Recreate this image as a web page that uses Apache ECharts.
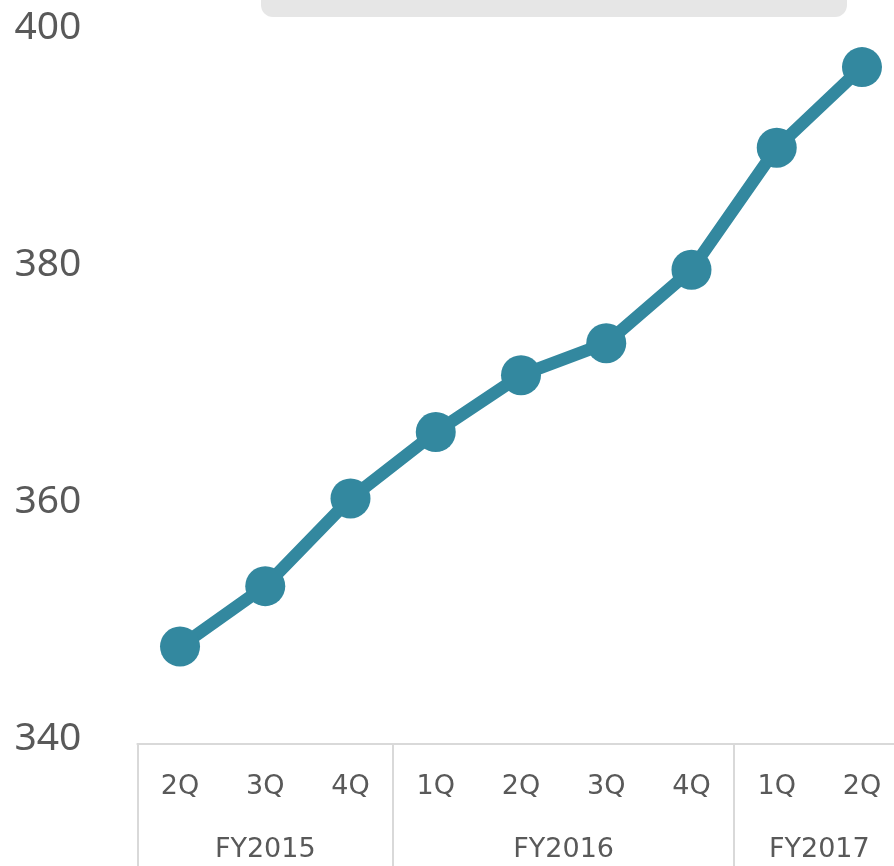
<!DOCTYPE html>
<html><head><meta charset="utf-8">
<script src="https://cdn.jsdelivr.net/npm/echarts@6/dist/echarts.min.js"></script>
<style>html,body{margin:0;padding:0;background:#fff;overflow:hidden}#c{width:894px;height:866px}</style>
</head><body><div id="c"></div>
<script>
const quarters = ['2Q','3Q','4Q','1Q','2Q','3Q','4Q','1Q','2Q'];
const fiscalYears = ['FY2015','FY2016','FY2017'];
const quartersPerYear = [3, 4, 2];
const values = [347.8, 352.9, 360.3, 365.9, 370.7, 373.4, 379.6, 389.9, 396.7];
const yMin = 340, yMax = 400, yStep = 20;

// group boundaries and centers in category-index units
const bounds = [-0.5];
quartersPerYear.forEach(n => bounds.push(bounds[bounds.length - 1] + n));
const centers = fiscalYears.map((_, i) => (bounds[i] + bounds[i + 1]) / 2);
const centerName = {};
centers.forEach((c, i) => { centerName[c] = fiscalYears[i]; });

const FONT = 'DejaVu Sans';
const TXT = '#595959';
const GRID_LINE = '#d9d9d9';
const TEAL = '#33889f';

const chart = echarts.init(document.getElementById('c'), null, {renderer: 'canvas'});
chart.setOption({
  animation: false,
  backgroundColor: '#fff',
  graphic: [{
    type: 'rect', left: 261, top: -30,
    shape: {width: 586, height: 47, r: 12},
    style: {fill: '#e6e6e6'}, silent: true
  }],
  grid: {left: 137.4, top: 28, width: 767.2, bottom: 127, containLabel: false, outerBoundsMode: 'none'},
  xAxis: [{
    type: 'category', data: quarters, position: 'bottom', offset: 5,
    boundaryGap: true,
    axisLine: {onZero: false, lineStyle: {color: GRID_LINE, width: 2}},
    axisTick: {show: false},
    splitLine: {show: false},
    axisLabel: {interval: 0, color: TXT, fontFamily: FONT, fontSize: 27, margin: 29}
  }, {
    type: 'value', min: bounds[0], max: bounds[bounds.length - 1], position: 'bottom', offset: 5,
    axisLine: {show: false, onZero: false},
    splitLine: {show: false},
    axisTick: {show: true, customValues: bounds, length: 122, lineStyle: {color: GRID_LINE, width: 2}},
    axisLabel: {customValues: centers, formatter: v => centerName[v] || '', color: TXT, fontFamily: FONT, fontSize: 27, margin: 92}
  }],
  yAxis: {
    type: 'value', min: yMin, max: yMax, interval: yStep,
    axisLine: {show: false}, axisTick: {show: false}, splitLine: {show: false},
    axisLabel: {color: TXT, fontFamily: 'Noto Sans', fontSize: 39, margin: 56}
  },
  series: [{
    type: 'line', data: values, xAxisIndex: 0, yAxisIndex: 0,
    symbol: 'circle', symbolSize: 40,
    lineStyle: {color: TEAL, width: 12.5},
    itemStyle: {color: TEAL},
    emphasis: {disabled: true}
  }]
});
</script></body></html>
